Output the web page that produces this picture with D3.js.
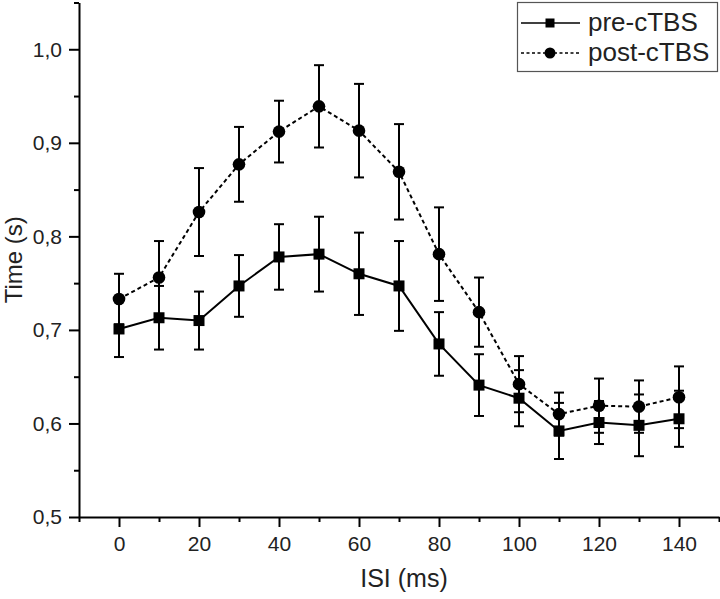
<!DOCTYPE html>
<html>
<head>
<meta charset="utf-8">
<script src="https://cdn.jsdelivr.net/npm/d3@7"></script>
<style>
  body { margin: 0; background: #fff; }
  svg { display: block; font-family: "Liberation Sans", Arial, sans-serif; }
</style>
</head>
<body>
<svg id="chart"></svg>
<script>
// ISI values (ms)
const isi = [0, 10, 20, 30, 40, 50, 60, 70, 80, 90, 100, 110, 120, 130, 140];

// mean times (s) and error bar half-widths
const preMean = [0.701, 0.713, 0.710, 0.747, 0.778, 0.781, 0.760, 0.747, 0.685, 0.641, 0.627, 0.592, 0.601, 0.598, 0.605];
const preErr  = [0.030, 0.034, 0.031, 0.033, 0.035, 0.040, 0.044, 0.048, 0.034, 0.033, 0.030, 0.030, 0.023, 0.033, 0.030];
const postMean = [0.733, 0.756, 0.826, 0.877, 0.912, 0.939, 0.913, 0.869, 0.781, 0.719, 0.642, 0.610, 0.619, 0.618, 0.628];
const postErr  = [0.027, 0.039, 0.047, 0.040, 0.033, 0.044, 0.050, 0.051, 0.050, 0.037, 0.030, 0.023, 0.029, 0.028, 0.033];

const xMajor = [0, 20, 40, 60, 80, 100, 120, 140];
const xMinor = [-10, 10, 30, 50, 70, 90, 110, 130, 150];
const yMajor = [0.5, 0.6, 0.7, 0.8, 0.9, 1.0];
const yMinor = [0.55, 0.65, 0.75, 0.85, 0.95, 1.05];

const seriesNames = ["pre-cTBS", "post-cTBS"];

const W = 720, H = 599;
const svg = d3.select("#chart").attr("width", W).attr("height", H);

const x = d3.scaleLinear().domain([-10, 150]).range([79, 719]);
const y = d3.scaleLinear().domain([0.5, 1.05]).range([517, 2.5]);

const fmtY = d => d3.format(".1f")(d).replace(".", ",");

// x axis
const gx = svg.append("g").attr("transform", `translate(0,${y(0.5)})`);
gx.call(d3.axisBottom(x).tickValues(xMajor).tickSize(10).tickSizeOuter(0).tickPadding(9).tickFormat(d3.format("d")));
gx.append("g").call(d3.axisBottom(x).tickValues(xMinor).tickSize(5).tickFormat(""))
  .select(".domain").remove();

// y axis
const gy = svg.append("g").attr("transform", `translate(${x(-10)},0)`);
gy.call(d3.axisLeft(y).tickValues(yMajor).tickSize(10).tickSizeOuter(0).tickPadding(7).tickFormat(fmtY));
gy.append("g").call(d3.axisLeft(y).tickValues(yMinor).tickSize(5).tickFormat(""))
  .select(".domain").remove();

svg.selectAll(".domain, .tick line").attr("stroke", "#000").attr("stroke-width", 2);
svg.selectAll(".tick text").attr("fill", "#222").style("font-size", "21px");

// axis titles
svg.append("text")
  .attr("x", 404).attr("y", 587)
  .attr("text-anchor", "middle")
  .style("font-size", "25px").attr("fill", "#222")
  .text("ISI (ms)");

svg.append("text")
  .attr("transform", `translate(22,${(y(0.5) + y(1.05)) / 2}) rotate(-90)`)
  .attr("text-anchor", "middle")
  .style("font-size", "24px").attr("fill", "#222")
  .text("Time (s)");

const pre = isi.map((d, i) => ({ x: d, y: preMean[i], e: preErr[i] }));
const post = isi.map((d, i) => ({ x: d, y: postMean[i], e: postErr[i] }));

const line = d3.line().x(d => x(d.x)).y(d => y(d.y));

function errorBars(data) {
  const g = svg.append("g").attr("stroke", "#000").attr("stroke-width", 2);
  data.forEach(d => {
    g.append("line").attr("x1", x(d.x)).attr("x2", x(d.x)).attr("y1", y(d.y - d.e)).attr("y2", y(d.y + d.e));
    g.append("line").attr("x1", x(d.x) - 5).attr("x2", x(d.x) + 5).attr("y1", y(d.y + d.e)).attr("y2", y(d.y + d.e));
    g.append("line").attr("x1", x(d.x) - 5).attr("x2", x(d.x) + 5).attr("y1", y(d.y - d.e)).attr("y2", y(d.y - d.e));
  });
}

errorBars(pre);
errorBars(post);

// lines
svg.append("path").datum(pre).attr("d", line)
  .attr("fill", "none").attr("stroke", "#000").attr("stroke-width", 2);
svg.append("path").datum(post).attr("d", line)
  .attr("fill", "none").attr("stroke", "#000").attr("stroke-width", 2)
  .attr("stroke-dasharray", "4,3");

// markers
svg.selectAll("rect.pre").data(pre).enter().append("rect")
  .attr("class", "pre")
  .attr("x", d => x(d.x) - 5.5).attr("y", d => y(d.y) - 5.5)
  .attr("width", 11).attr("height", 11).attr("fill", "#000");
svg.selectAll("circle.post").data(post).enter().append("circle")
  .attr("class", "post")
  .attr("cx", d => x(d.x)).attr("cy", d => y(d.y)).attr("r", 6.3)
  .attr("fill", "#000");

// legend
const lg = svg.append("g");
lg.append("rect").attr("x", 517.5).attr("y", 2.5).attr("width", 200).attr("height", 69)
  .attr("fill", "#fff").attr("stroke", "#555").attr("stroke-width", 1.2);
seriesNames.forEach((name, i) => {
  const cy = 23 + i * 30;
  lg.append("line").attr("x1", 521).attr("x2", 580).attr("y1", cy).attr("y2", cy)
    .attr("stroke", "#000").attr("stroke-width", 1.5)
    .attr("stroke-dasharray", i === 1 ? "3,2.5" : null);
  if (i === 0) {
    lg.append("rect").attr("x", 545.5).attr("y", cy - 4.5).attr("width", 9).attr("height", 9).attr("fill", "#000");
  } else {
    lg.append("circle").attr("cx", 550).attr("cy", cy).attr("r", 5.5).attr("fill", "#000");
  }
  lg.append("text").attr("x", 588).attr("y", cy + 8)
    .style("font-size", "26px").attr("fill", "#222")
    .text(name);
});
</script>
</body>
</html>
